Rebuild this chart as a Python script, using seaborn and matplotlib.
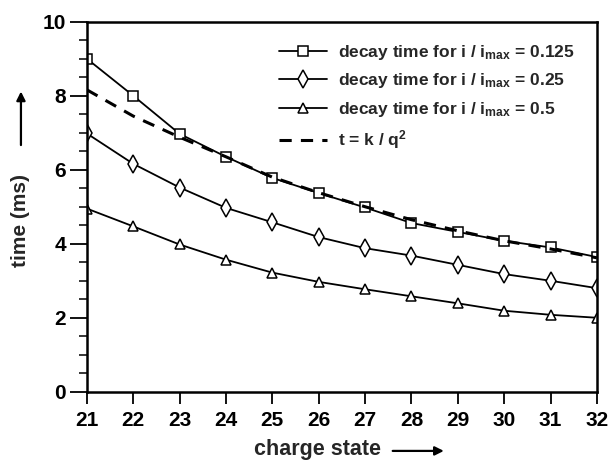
import numpy as np
import pandas as pd
import matplotlib
matplotlib.use('Agg')
import matplotlib.pyplot as plt
import seaborn as sns

# ----------------------------> data ----------------------------------------------------

charge = [21, 22, 23, 24, 25, 26, 27, 28, 29, 30, 31, 32]
t_0125 = [9.0, 8.0, 6.97, 6.35, 5.78, 5.37, 4.98, 4.56, 4.32, 4.08, 3.9, 3.64]
t_025 = [6.98, 6.16, 5.52, 4.97, 4.58, 4.18, 3.88, 3.68, 3.43, 3.18, 3.0, 2.8]
t_05 = [4.95, 4.47, 3.98, 3.57, 3.22, 2.97, 2.77, 2.58, 2.39, 2.19, 2.08, 2.0]
t_fit = [8.16, 7.45, 6.88, 6.35, 5.8, 5.38, 5.0, 4.65, 4.35, 4.08, 3.86, 3.62]

df = pd.DataFrame({'q': charge, 'a': t_0125, 'b': t_025, 'c': t_05, 'fit': t_fit})

# ----------------------------> style ----------------------------------------------------

sns.set_style('ticks')
plt.rcParams['font.family'] = ['Liberation Sans', 'DejaVu Sans']
plt.rcParams['font.weight'] = 'bold'
plt.rcParams['mathtext.fontset'] = 'custom'
plt.rcParams['mathtext.rm'] = 'Liberation Sans:bold'
plt.rcParams['mathtext.it'] = 'Liberation Sans:bold'
plt.rcParams['mathtext.bf'] = 'Liberation Sans:bold'
plt.rcParams['mathtext.default'] = 'rm'

fig = plt.figure(figsize=(6.16, 4.62), dpi=100)
ax = fig.add_axes([0.141, 0.152, 0.828, 0.801])

mk = dict(markerfacecolor='white', markeredgecolor='black', markeredgewidth=1.1,
          color='black', linewidth=1.3)
sns.lineplot(data=df, x='q', y='a', marker='s', markersize=7, ax=ax,
             label=r'decay time for i / i$_{max}$ = 0.125', **mk)
sns.lineplot(data=df, x='q', y='b', marker='d', markersize=9, ax=ax,
             label=r'decay time for i / i$_{max}$ = 0.25', **mk)
sns.lineplot(data=df, x='q', y='c', marker='^', markersize=7, ax=ax,
             label=r'decay time for i / i$_{max}$ = 0.5', **mk)
sns.lineplot(data=df, x='q', y='fit', color='black', linewidth=2.2, ax=ax,
             linestyle=(0, (4, 3)), label=r't = k / q$^2$')

ax.set_xlim(21, 32)
ax.set_ylim(0, 10)
ax.set_xticks(charge)
ax.set_yticks([0, 2, 4, 6, 8, 10])
ax.set_yticks(np.arange(0, 10.01, 0.5), minor=True)
ax.tick_params(axis='both', which='major', labelsize=15, width=1.3,
               direction='out', colors='black')
ax.tick_params(axis='x', which='major', length=8.5, pad=5)
ax.tick_params(axis='y', which='major', length=12, pad=3)
ax.tick_params(axis='y', which='minor', width=1.3, length=6, direction='out')
for s in ax.spines.values():
    s.set_linewidth(1.8)
    s.set_color('black')
for lab in ax.get_xticklabels() + ax.get_yticklabels():
    lab.set_fontweight('bold')

ax.set_xlabel('')
ax.set_ylabel('')
fig.text(0.516, 0.026, 'charge state', ha='center', va='center', fontsize=15.5,
         fontweight='bold')
fig.text(0.034, 0.522, 'time (ms)', ha='center', va='center', rotation=90,
         fontsize=15, fontweight='bold')
ax.annotate('', xy=(0.725, 0.024), xytext=(0.633, 0.024), xycoords='figure fraction',
            arrowprops=dict(arrowstyle='-|>', color='black', lw=1.6, mutation_scale=13))
ax.annotate('', xy=(0.034, 0.808), xytext=(0.034, 0.68), xycoords='figure fraction',
            arrowprops=dict(arrowstyle='-|>', color='black', lw=1.6, mutation_scale=13))

leg = ax.legend(loc='upper left', bbox_to_anchor=(0.376, 0.943), frameon=False,
                fontsize=12.5, handlelength=2.8, labelspacing=0.55, handletextpad=0.6,
                borderpad=0, borderaxespad=0)
for t in leg.get_texts():
    t.set_fontweight('bold')

fig.savefig('out.png', dpi=100)
